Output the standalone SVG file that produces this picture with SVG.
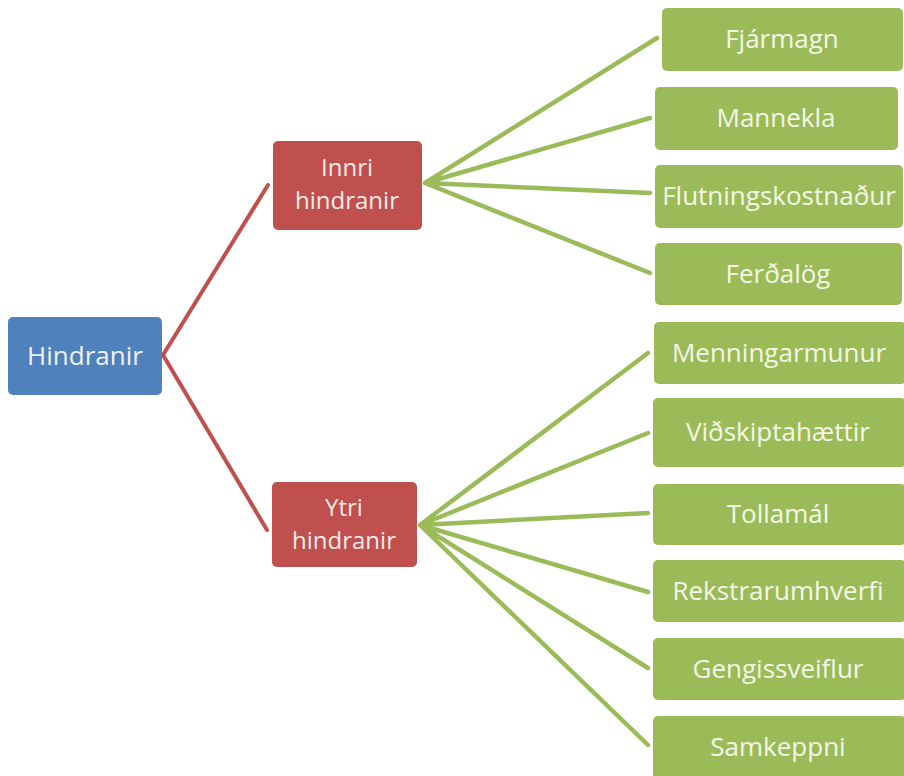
<svg xmlns="http://www.w3.org/2000/svg" width="904" height="776" viewBox="0 0 904 776">
<style>
text{font-family:"Open Sans","Liberation Sans",sans-serif;font-size:26px;text-anchor:middle}
.two text{font-size:24px}
.blue rect{fill:#4f81bd}
.red rect{fill:#c0504d}
.green rect{fill:#9bbb59}
.blue text{fill:#eef2f8}
.red text{fill:#f6ebe9}
.green text{fill:#f3f8e6}
.rl{stroke:#c0504d;stroke-width:4;fill:none;stroke-linecap:round}
.gl{stroke:#9bbb59;stroke-width:4.5;fill:none;stroke-linecap:round}
</style>
<rect width="904" height="776" fill="#ffffff"/>
<g id="connectors">
<path class="rl" d="M268,185 L163,355 L267,530"/>
<path class="gl" d="M657,38 L425,183 M650,118 L425,183 M650,193 L425,183 M650,273 L425,183"/>
<path class="gl" d="M648,353 L420,525 M648,433 L420,525 M648,513 L420,525 M648,592 L420,525 M648,668 L420,525 M648,745 L420,525"/>
</g>
<g id="hindranir" class="blue"><rect x="8" y="317" width="154" height="78" rx="5"/><text x="85" y="365">Hindranir</text></g>
<g id="innri" class="red two"><rect x="273" y="141" width="149" height="89" rx="5"/><text x="347" y="176">Innri</text><text x="347" y="209">hindranir</text></g>
<g id="ytri" class="red two"><rect x="272" y="482" width="145" height="85" rx="5"/><text x="344" y="516">Ytri</text><text x="344" y="549">hindranir</text></g>
<g id="fjarmagn" class="green"><rect x="662" y="8" width="241" height="63" rx="5"/><text x="782" y="48">Fjármagn</text></g>
<g id="mannekla" class="green"><rect x="655" y="87" width="243" height="63" rx="5"/><text x="776" y="127">Mannekla</text></g>
<g id="flutningskostnadur" class="green"><rect x="655" y="165" width="248" height="63" rx="5"/><text x="779" y="205">Flutningskostnaður</text></g>
<g id="ferdalog" class="green"><rect x="655" y="243" width="247" height="62" rx="5"/><text x="778" y="283">Ferðalög</text></g>
<g id="menningarmunur" class="green"><rect x="654" y="322" width="252" height="62" rx="5"/><text x="779" y="362">Menningarmunur</text></g>
<g id="vidskiptahaettir" class="green"><rect x="653" y="398" width="253" height="69" rx="5"/><text x="778" y="441">Viðskiptahættir</text></g>
<g id="tollamal" class="green"><rect x="653" y="484" width="253" height="61" rx="5"/><text x="778" y="523">Tollamál</text></g>
<g id="rekstrarumhverfi" class="green"><rect x="653" y="560" width="253" height="62" rx="5"/><text x="778" y="600">Rekstrarumhverfi</text></g>
<g id="gengissveiflur" class="green"><rect x="653" y="638" width="253" height="62" rx="5"/><text x="778" y="678">Gengissveiflur</text></g>
<g id="samkeppni" class="green"><rect x="653" y="716" width="253" height="66" rx="5"/><text x="778" y="756">Samkeppni</text></g>
</svg>
